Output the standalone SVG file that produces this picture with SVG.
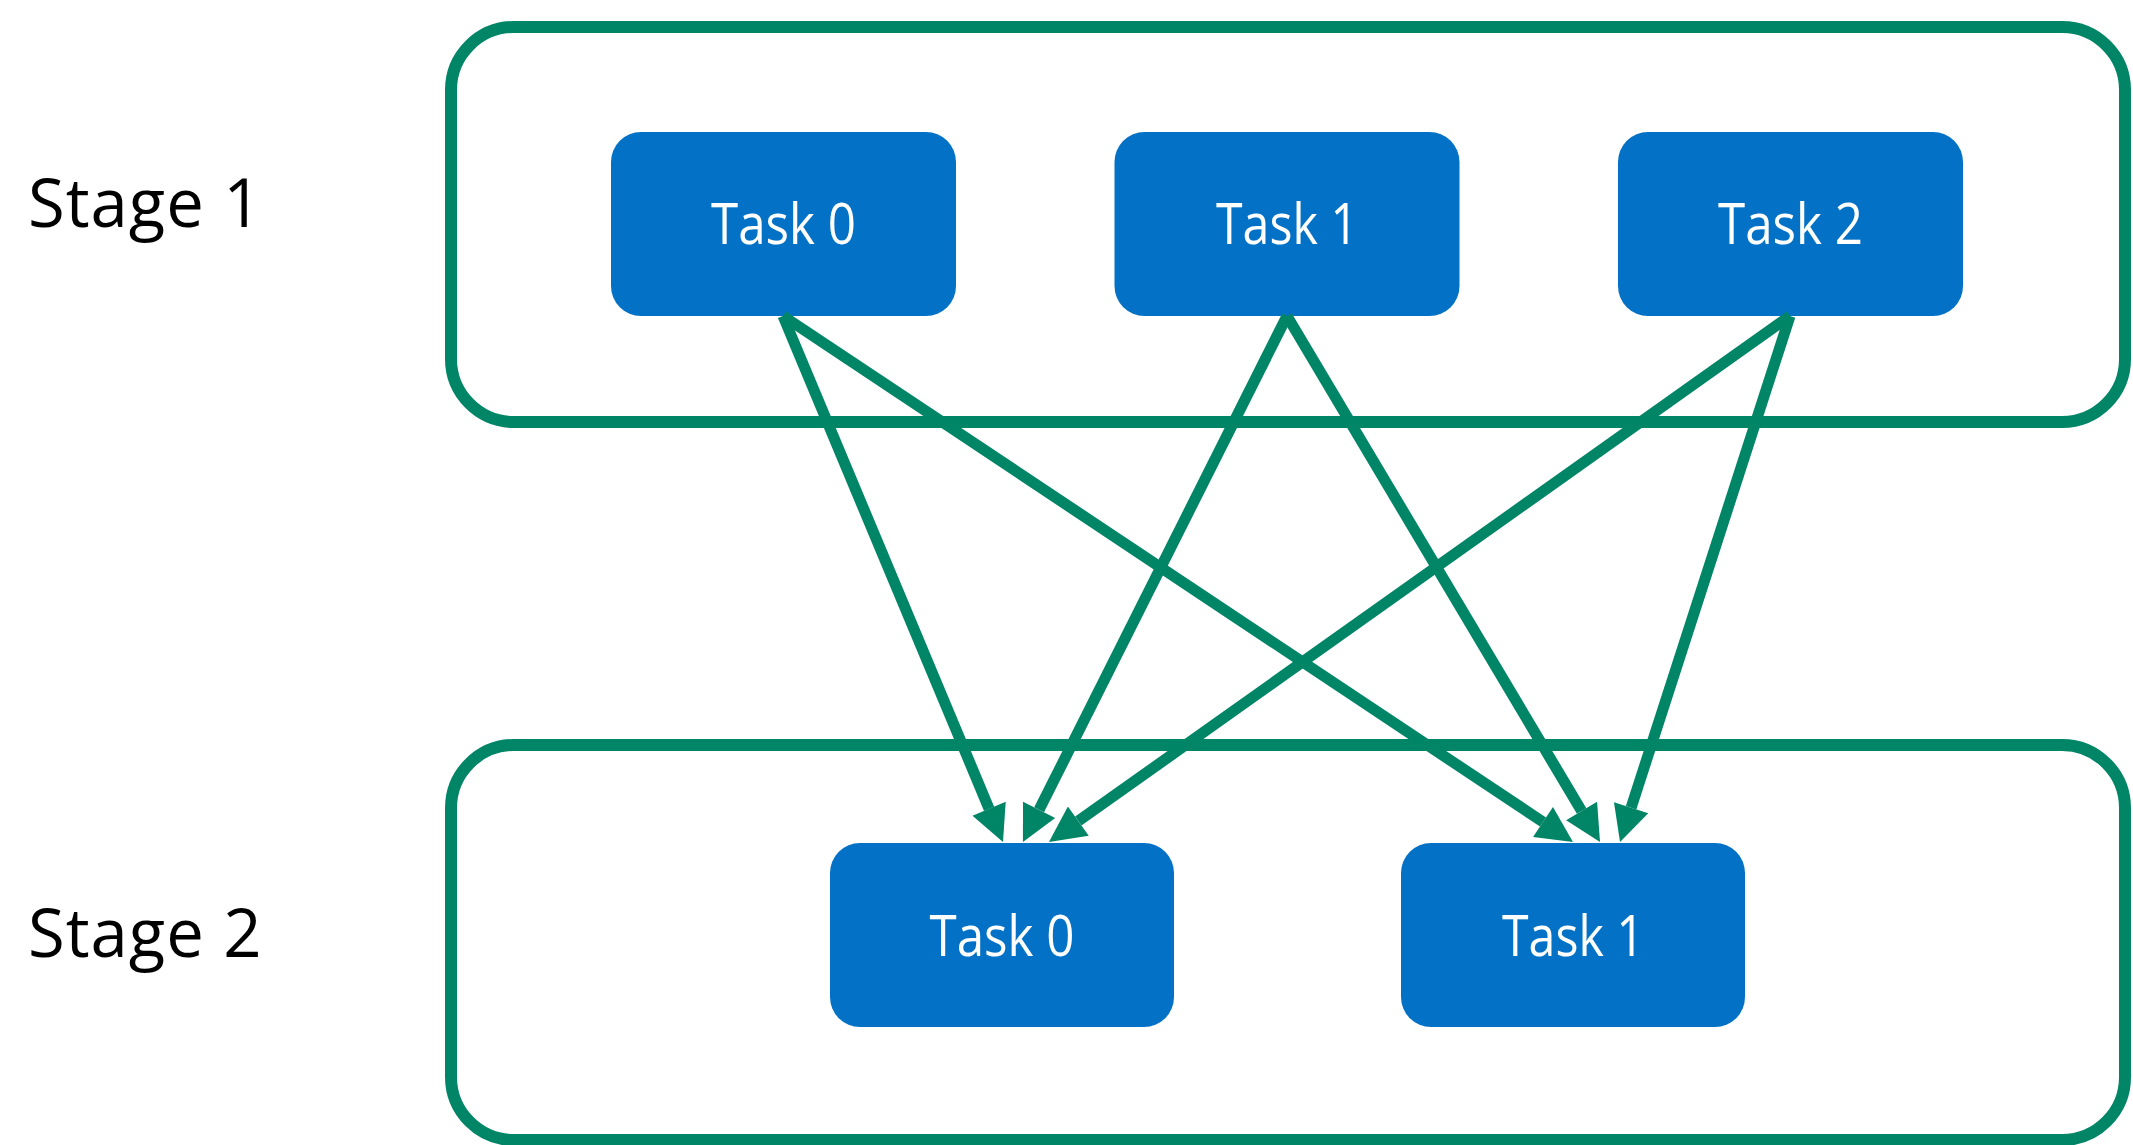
<svg xmlns="http://www.w3.org/2000/svg" width="2133" height="1145" viewBox="0 0 2133 1145">
<style>
.stage{fill:none;stroke:#008566;stroke-width:12}
.task rect{fill:#0372C6}
.task text{fill:#ffffff;font-family:"Open Sans","Noto Sans",sans-serif;font-size:56px;text-anchor:middle}
.label{fill:#000000;font-family:"Open Sans","Noto Sans",sans-serif;font-size:67px;letter-spacing:1px}
.conn line{stroke:#008566;stroke-width:11;fill:none}
</style>
<defs>
<marker id="ah" markerUnits="userSpaceOnUse" markerWidth="38" markerHeight="36" refX="2" refY="18" orient="auto" viewBox="0 0 38 36">
<path d="M2,0 L38,18 L2,36 z" fill="#008566"/>
</marker>
</defs>
<rect fill="#ffffff" x="0" y="0" width="2133" height="1145"/>
<g id="stage1">
<rect class="stage" x="451" y="27" width="1674" height="395" rx="63" ry="63"/>
<text class="label" x="28" y="227">Stage 1</text>
</g>
<g id="stage2">
<rect class="stage" x="451" y="745" width="1674" height="395" rx="63" ry="63"/>
<text class="label" x="28" y="957">Stage 2</text>
</g>
<g id="s1-task0" class="task"><rect x="611" y="132" width="345" height="184" rx="30"/><text x="783.5" y="244" textLength="145" lengthAdjust="spacingAndGlyphs">Task 0</text></g>
<g id="s1-task1" class="task"><rect x="1114.5" y="132" width="345" height="184" rx="30"/><text x="1287" y="244" textLength="142" lengthAdjust="spacingAndGlyphs">Task 1</text></g>
<g id="s1-task2" class="task"><rect x="1618" y="132" width="345" height="184" rx="30"/><text x="1790.5" y="244" textLength="145" lengthAdjust="spacingAndGlyphs">Task 2</text></g>
<g id="s2-task0" class="task"><rect x="830" y="843" width="344" height="184" rx="30"/><text x="1002" y="956" textLength="145" lengthAdjust="spacingAndGlyphs">Task 0</text></g>
<g id="s2-task1" class="task"><rect x="1401" y="843" width="344" height="184" rx="30"/><text x="1573" y="956" textLength="142" lengthAdjust="spacingAndGlyphs">Task 1</text></g>
<g id="connectors" class="conn">
<line x1="783" y1="316" x2="989.1" y2="808.8" marker-end="url(#ah)"/>
<line x1="1287" y1="316" x2="1039.1" y2="809.8" marker-end="url(#ah)"/>
<line x1="1790" y1="316" x2="1078.3" y2="821.1" marker-end="url(#ah)"/>
<line x1="783" y1="316" x2="1543.0" y2="822.0" marker-end="url(#ah)"/>
<line x1="1287" y1="316" x2="1581.6" y2="811.0" marker-end="url(#ah)"/>
<line x1="1790" y1="316" x2="1631.1" y2="807.7" marker-end="url(#ah)"/>
</g>
</svg>
